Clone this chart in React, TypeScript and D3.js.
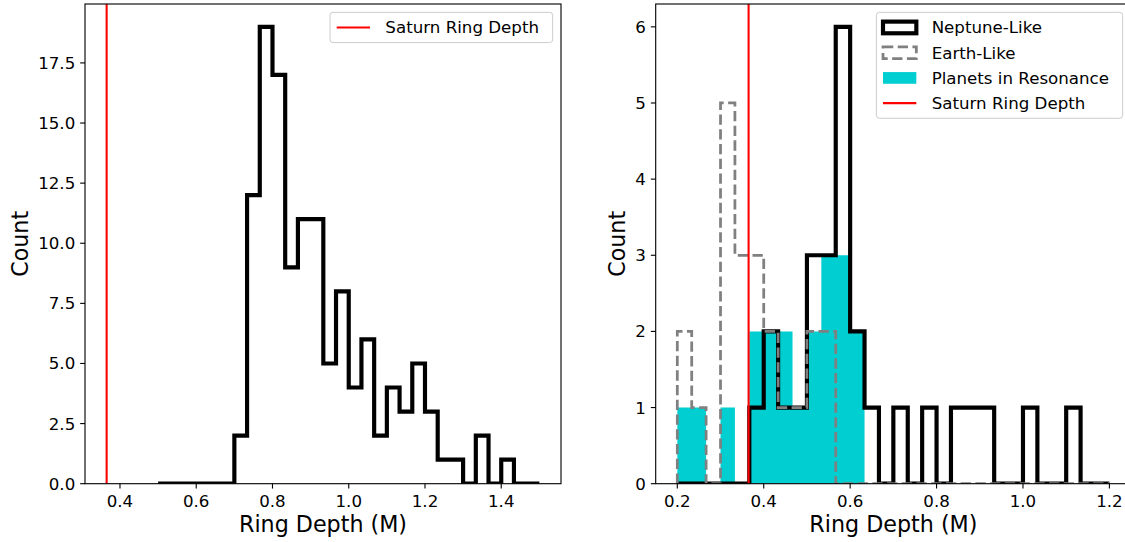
import React from "react";
import * as d3 from "d3";

// ---------- data ----------
const BIN_COUNT = 30;
const leftBinRange = [0.5, 1.5];
const rightBinRange = [0.2, 1.2];
const allCounts = [0, 0, 0, 0, 0, 0, 2, 12, 19, 17, 9, 11, 11, 5, 8, 4, 6, 2, 4, 3, 5, 3, 1, 1, 0, 2, 0, 1, 0, 0];
const neptuneCounts = [0, 0, 0, 0, 0, 1, 2, 1, 1, 3, 3, 6, 2, 1, 0, 1, 0, 1, 0, 1, 1, 1, 0, 0, 1, 0, 0, 1, 0, 0];
const earthCounts = [2, 1, 0, 5, 3, 3, 2, 1, 1, 2, 2, 0, 0, 0, 0, 0, 0, 0, 0, 0, 0, 0, 0, 0, 0, 0, 0, 0, 0, 0];
const resonanceCounts = [1, 1, 0, 1, 0, 2, 2, 2, 1, 2, 3, 3, 2, 0, 0, 0, 0, 0, 0, 0, 0, 0, 0, 0, 0, 0, 0, 0, 0, 0];
const saturnDepth = 0.365;
const leftXTicks = [0.4, 0.6, 0.8, 1.0, 1.2, 1.4];
const leftYTicks = [0, 2.5, 5, 7.5, 10, 12.5, 15, 17.5];
const rightXTicks = [0.2, 0.4, 0.6, 0.8, 1.0, 1.2];
const rightYTicks = [0, 1, 2, 3, 4, 5, 6];
const xLabel = "Ring Depth (M)";
const yLabel = "Count";
const leftLegend = [{ label: "Saturn Ring Depth", kind: "line" }];
const rightLegend = [
  { label: "Neptune-Like", kind: "black" },
  { label: "Earth-Like", kind: "gray" },
  { label: "Planets in Resonance", kind: "fill" },
  { label: "Saturn Ring Depth", kind: "line" },
];

// ---------- style ----------
const FONT = "DejaVu Sans, sans-serif";
const PT = 100 / 72;
const TICK_FS = 12 * PT;
const LABEL_FS = 16 * PT;
const LEG_FS = 12 * PT;
const CYAN = "#00CED1";
const W = 1125;
const H = 542;

const edges = (r: number[]) => d3.range(BIN_COUNT + 1).map((i) => r[0] + (i * (r[1] - r[0])) / BIN_COUNT);

function stepPoints(e: number[], c: number[]): [number, number][] {
  const pts: [number, number][] = [[e[0], 0]];
  c.forEach((v, i) => {
    pts.push([e[i], v]);
    pts.push([e[i + 1], v]);
  });
  pts.push([e[e.length - 1], 0]);
  return pts;
}

function measure(text: string, fs: number) {
  const cv = document.createElement("canvas");
  const ctx = cv.getContext("2d");
  if (!ctx) return text.length * fs * 0.6;
  ctx.font = `${fs}px "DejaVu Sans"`;
  return ctx.measureText(text).width;
}

function Legend({ items, right, top }: { items: { label: string; kind: string }[]; right: number; top: number }) {
  const em = LEG_FS;
  const pad = 0.4 * em;
  const handleLen = 2 * em;
  const handleText = 0.8 * em;
  const rowH = 16.9;
  const spacing = 0.5 * em;
  const tw = d3.max(items, (d) => measure(d.label, LEG_FS)) || 0;
  const bw = 2 * pad + handleLen + handleText + tw + 9;
  const bh = 2 * pad + items.length * rowH + (items.length - 1) * spacing;
  const bx = right - 0.5 * em - bw;
  const by = top + 0.5 * em;
  const hx = bx + pad;
  return (
    <g>
      <rect x={bx} y={by} width={bw} height={bh} rx={3} ry={3} fill="white" fillOpacity={0.8} stroke="#cccccc" strokeWidth={1} />
      {items.map((d, i) => {
        const cy = by + pad + rowH / 2 + i * (rowH + spacing);
        let handle: React.ReactNode = null;
        if (d.kind === "line") {
          handle = <line x1={hx} x2={hx + handleLen} y1={cy} y2={cy} stroke="red" strokeWidth={1.5 * PT} />;
        } else if (d.kind === "black") {
          handle = <rect x={hx} y={cy - 0.35 * em} width={handleLen} height={0.7 * em} fill="none" stroke="black" strokeWidth={3 * PT} />;
        } else if (d.kind === "gray") {
          handle = (
            <rect x={hx} y={cy - 0.35 * em} width={handleLen} height={0.7 * em} fill="none" stroke="gray" strokeWidth={2 * PT} strokeDasharray={`${7.4 * PT} ${3.2 * PT}`} />
          );
        } else {
          handle = <rect x={hx} y={cy - 0.35 * em} width={handleLen} height={0.7 * em} fill={CYAN} />;
        }
        return (
          <g key={d.label}>
            {handle}
            <text x={hx + handleLen + handleText + 2} y={cy + 6} fontSize={LEG_FS} fontFamily={FONT} fill="black">
              {d.label}
            </text>
          </g>
        );
      })}
    </g>
  );
}

type PanelProps = {
  id: string;
  x0: number;
  x1: number;
  y0: number;
  y1: number;
  xDomain: [number, number];
  yDomain: [number, number];
  xTicks: number[];
  yTicks: number[];
  yFmt: (v: number) => string;
  yLabelX: number;
  children: (xs: d3.ScaleLinear<number, number>, ys: d3.ScaleLinear<number, number>) => React.ReactNode;
  legend: React.ReactNode;
};

function Panel(p: PanelProps) {
  const xs = d3.scaleLinear().domain(p.xDomain).range([p.x0, p.x1]);
  const ys = d3.scaleLinear().domain(p.yDomain).range([p.y1, p.y0]);
  const tickLen = 3.5 * PT;
  const tickPad = 3.5 * PT;
  const lw = 0.8 * PT;
  return (
    <g>
      <defs>
        <clipPath id={p.id}>
          <rect x={p.x0} y={p.y0} width={p.x1 - p.x0} height={p.y1 - p.y0} />
        </clipPath>
      </defs>
      <g clipPath={`url(#${p.id})`}>{p.children(xs, ys)}</g>
      {/* spines */}
      <rect x={p.x0} y={p.y0} width={p.x1 - p.x0} height={p.y1 - p.y0} fill="none" stroke="black" strokeWidth={lw} />
      {/* x ticks */}
      {p.xTicks.map((t) => (
        <g key={"x" + t}>
          <line x1={xs(t)} x2={xs(t)} y1={p.y1} y2={p.y1 + tickLen} stroke="black" strokeWidth={lw} />
          <text x={xs(t)} y={p.y1 + tickLen + tickPad + 13.2} textAnchor="middle" fontSize={TICK_FS} fontFamily={FONT} fill="black">
            {d3.format(".1f")(t)}
          </text>
        </g>
      ))}
      {p.yTicks.map((t) => (
        <g key={"y" + t}>
          <line x1={p.x0 - tickLen} x2={p.x0} y1={ys(t)} y2={ys(t)} stroke="black" strokeWidth={lw} />
          <text x={p.x0 - tickLen - tickPad} y={ys(t) + 6} textAnchor="end" fontSize={TICK_FS} fontFamily={FONT} fill="black">
            {p.yFmt(t)}
          </text>
        </g>
      ))}
      <text x={(p.x0 + p.x1) / 2} y={532} textAnchor="middle" fontSize={LABEL_FS} fontFamily={FONT} fill="black">
        {xLabel}
      </text>
      <text transform={`translate(${p.yLabelX},${(p.y0 + p.y1) / 2}) rotate(-90)`} textAnchor="middle" fontSize={LABEL_FS} fontFamily={FONT} fill="black">
        {yLabel}
      </text>
      {p.legend}
    </g>
  );
}

export default function App() {
  const top = 4;
  const bottom = 483.7;
  const leftEdges = edges(leftBinRange);
  const rightEdges = edges(rightBinRange);
  const pad = (lo: number, hi: number): [number, number] => [lo - 0.05 * (hi - lo), hi + 0.05 * (hi - lo)];
  const lxDom = pad(Math.min(saturnDepth, leftBinRange[0]), leftBinRange[1]);
  const rxDom = pad(Math.min(saturnDepth, rightBinRange[0]), rightBinRange[1]);
  const lyMax = (d3.max(allCounts) || 1) * 1.05;
  const ryMax = (d3.max([...neptuneCounts, ...earthCounts, ...resonanceCounts]) || 1) * 1.05;

  const L = { x0: 85, x1: 561 };
  const R = { x0: 655.7, x1: 1131 };

  return (
    <svg width={W} height={H} style={{ position: "absolute", left: 0, top: 0, background: "white" }}>
      <rect x={0} y={0} width={W} height={H} fill="white" />
      <Panel
        id="clipL"
        x0={L.x0}
        x1={L.x1}
        y0={top}
        y1={bottom}
        xDomain={lxDom}
        yDomain={[0, lyMax]}
        xTicks={leftXTicks}
        yTicks={leftYTicks}
        yFmt={d3.format(".1f")}
        yLabelX={27.5}
        legend={<Legend items={leftLegend} right={L.x1} top={top} />}
      >
        {(xs, ys) => {
          const line = d3
            .line<[number, number]>()
            .x((d) => xs(d[0]))
            .y((d) => ys(d[1]));
          return (
            <g>
              <path d={line(stepPoints(leftEdges, allCounts)) || ""} fill="none" stroke="black" strokeWidth={3 * PT} strokeLinejoin="miter" />
              <line x1={xs(saturnDepth)} x2={xs(saturnDepth)} y1={top} y2={bottom} stroke="red" strokeWidth={1.5 * PT} />
            </g>
          );
        }}
      </Panel>
      <Panel
        id="clipR"
        x0={R.x0}
        x1={R.x1}
        y0={top}
        y1={bottom}
        xDomain={rxDom}
        yDomain={[0, ryMax]}
        xTicks={rightXTicks}
        yTicks={rightYTicks}
        yFmt={d3.format("d")}
        yLabelX={625}
        legend={<Legend items={rightLegend} right={R.x1} top={top} />}
      >
        {(xs, ys) => {
          const line = d3
            .line<[number, number]>()
            .x((d) => xs(d[0]))
            .y((d) => ys(d[1]));
          return (
            <g>
              <path d={(line(stepPoints(rightEdges, resonanceCounts)) || "") + "Z"} fill={CYAN} stroke="none" />
              <path d={line(stepPoints(rightEdges, neptuneCounts)) || ""} fill="none" stroke="black" strokeWidth={3 * PT} strokeLinejoin="miter" />
              <path
                d={line(stepPoints(rightEdges, earthCounts)) || ""}
                fill="none"
                stroke="gray"
                strokeWidth={2 * PT}
                strokeDasharray={`${7.4 * PT} ${3.2 * PT}`}
                strokeLinejoin="miter"
              />
              <line x1={xs(saturnDepth)} x2={xs(saturnDepth)} y1={top} y2={bottom} stroke="red" strokeWidth={1.5 * PT} />
            </g>
          );
        }}
      </Panel>
    </svg>
  );
}
